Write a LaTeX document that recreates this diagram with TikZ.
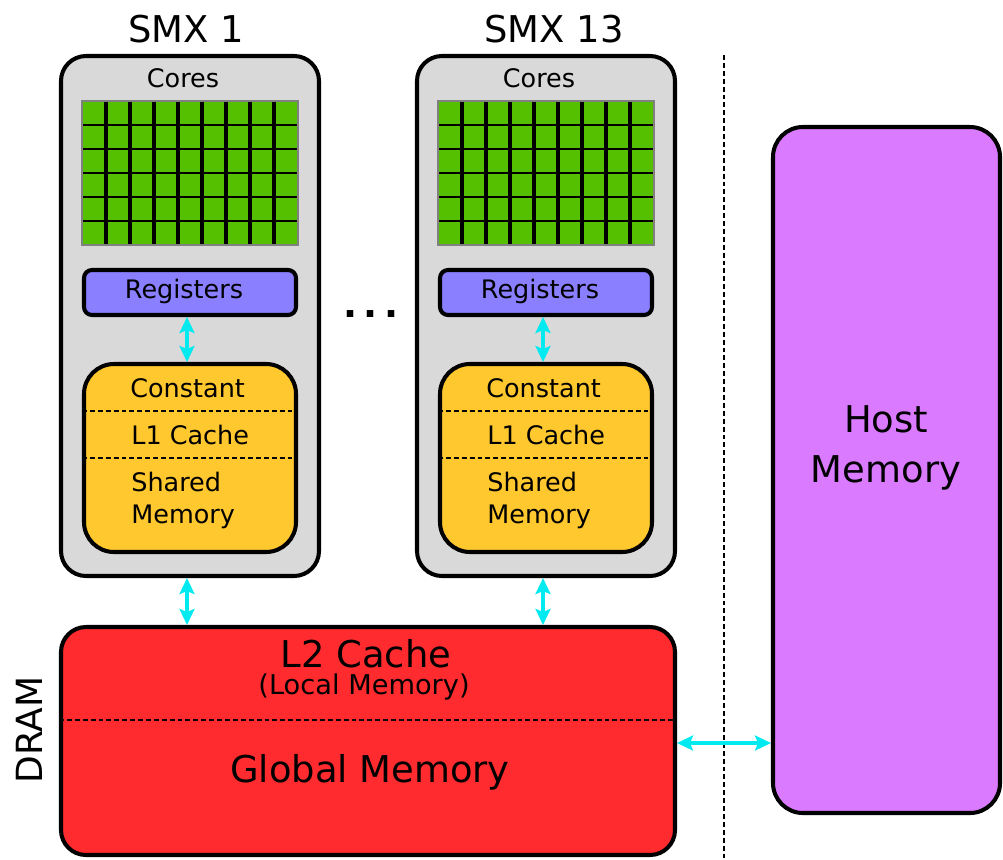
\documentclass[tikz,border=0pt]{standalone}
\usepackage{fontspec}
\setmainfont{DejaVu Sans}
\usetikzlibrary{arrows.meta}
\definecolor{smxgray}{RGB}{217,217,217}
\definecolor{coregreen}{RGB}{85,192,0}
\definecolor{regblue}{RGB}{138,128,255}
\definecolor{shmorange}{RGB}{255,200,46}
\definecolor{dramred}{RGB}{255,43,47}
\definecolor{hostpink}{RGB}{218,123,255}
\definecolor{linkcyan}{RGB}{0,234,240}
\newcommand{\pxu}{0.02cm}

\begin{document}
\begin{tikzpicture}[x=0.02cm, y=-0.02cm,
         >={Stealth[length=0.32cm,width=0.3cm,inset=0.06cm]},
         % The boxes:
         box/.style={rectangle, inner sep=0pt, line width=2.3pt, draw=black},
         smxbox/.style={box, fill=smxgray, rounded corners=0.5cm,
            minimum width=258*\pxu, minimum height=520*\pxu},
         regbox/.style={box, fill=regblue, rounded corners=0.16cm,
            minimum width=212*\pxu, minimum height=45*\pxu},
         shmbox/.style={box, fill=shmorange, rounded corners=0.6cm,
            minimum width=212*\pxu, minimum height=188*\pxu},
         % Font
         txt/.style={inner sep=0pt, font=\fontsize{14.5}{17}\selectfont},
         bigtxt/.style={inner sep=0pt, font=\fontsize{21}{25}\selectfont},
         % The links
         link/.style={<->, draw=linkcyan, fill=linkcyan, line width=2.4pt},
         sep/.style={line width=0.85pt, dash pattern=on 2.8pt off 1.7pt}]
   \useasboundingbox (0,0) rectangle (1003,859);
   \foreach \x/\no/\id in {0/1/A, 356/13/B}{
      \node[smxbox] (smx\id) at (190+\x,316) {};
      \node[bigtxt, anchor=base west] (title\id) at (128+\x,42) {SMX \no};
      \node[txt, anchor=base] (cores\id) at (183+\x,87) {Cores};
      %% the cores
      \fill[coregreen] (82+\x,101) rectangle (298+\x,245);
      \foreach \c in {1,...,8}
         \draw[line width=2pt] (82+\x+24*\c,101) -- ++(0,144);
      \foreach \r in {1,...,5}
         \draw[line width=0.8pt] (82+\x,101+24*\r) -- ++(216,0);
      \draw[gray, line width=1pt] (82+\x,101) rectangle (298+\x,245);
      %% registers and on-chip memory
      \node[regbox] (reg\id) at (190+\x,292.5) {};
      \node[txt, anchor=base] (reglbl\id) at (184+\x,298) {Registers};
      \node[shmbox] (shm\id) at (190+\x,458) {};
      \draw[sep] (82+\x,411) -- (298+\x,411);
      \draw[sep] (82+\x,458) -- (298+\x,458);
      \node[txt, anchor=base west] (const\id) at (130+\x,397) {Constant};
      \node[txt, anchor=base west] (lone\id) at (131+\x,444) {L1 Cache};
      \node[txt, anchor=base west] (shared\id) at (131+\x,491) {Shared};
      \node[txt, anchor=base west] (shmem\id) at (131+\x,523) {Memory};
      \draw[link] ([xshift=-3*\pxu]reg\id.south) -- ([xshift=-3*\pxu]shm\id.north);
   };
   \node[bigtxt, anchor=base, font=\fontsize{21}{25}\selectfont\bfseries] (dots) at (371,317) {.\,.\,.};
   %% DRAM
   \node[box, fill=dramred, rounded corners=0.5cm, minimum width=614*\pxu,
      minimum height=228*\pxu] (dram) at (368,741) {};
   \coordinate (l2sep) at (0,720);
   \draw[line width=1.1pt, dash pattern=on 2.8pt off 1.7pt] (dram.west |- l2sep) -- (dram.east |- l2sep);
   \node[bigtxt, anchor=base] (ltwo) at (366,667) {L2 Cache};
   \node[inner sep=0pt, anchor=base, font=\fontsize{15.5}{18}\selectfont] (local) at (364,694) {(Local Memory)};
   \node[bigtxt, anchor=base] (global) at (370,782) {Global Memory};
   \node[bigtxt, rotate=90, anchor=base, font=\fontsize{20.5}{24}\selectfont] (dramlbl) at (42,730) {DRAM};
   \foreach \id in {A, B}
      \draw[link] ([xshift=-3*\pxu]smx\id.south) -- ([xshift=-3*\pxu]smx\id.south |- dram.north);
   %% host side
   \draw[line width=1.5pt, dash pattern=on 2.8pt off 1.7pt] (724,55) -- (724,859);
   \node[box, fill=hostpink, rounded corners=0.6cm, minimum width=227*\pxu,
      minimum height=686*\pxu] (host) at (886.5,470) {};
   \node[bigtxt, anchor=base] (hostlbl) at (886,432) {Host};
   \node[bigtxt, anchor=base] (hostmem) at (886,482) {Memory};
   \draw[link] ([yshift=-2*\pxu]dram.east) -- ([yshift=-2*\pxu]dram.east -| host.west);
\end{tikzpicture}
\end{document}
